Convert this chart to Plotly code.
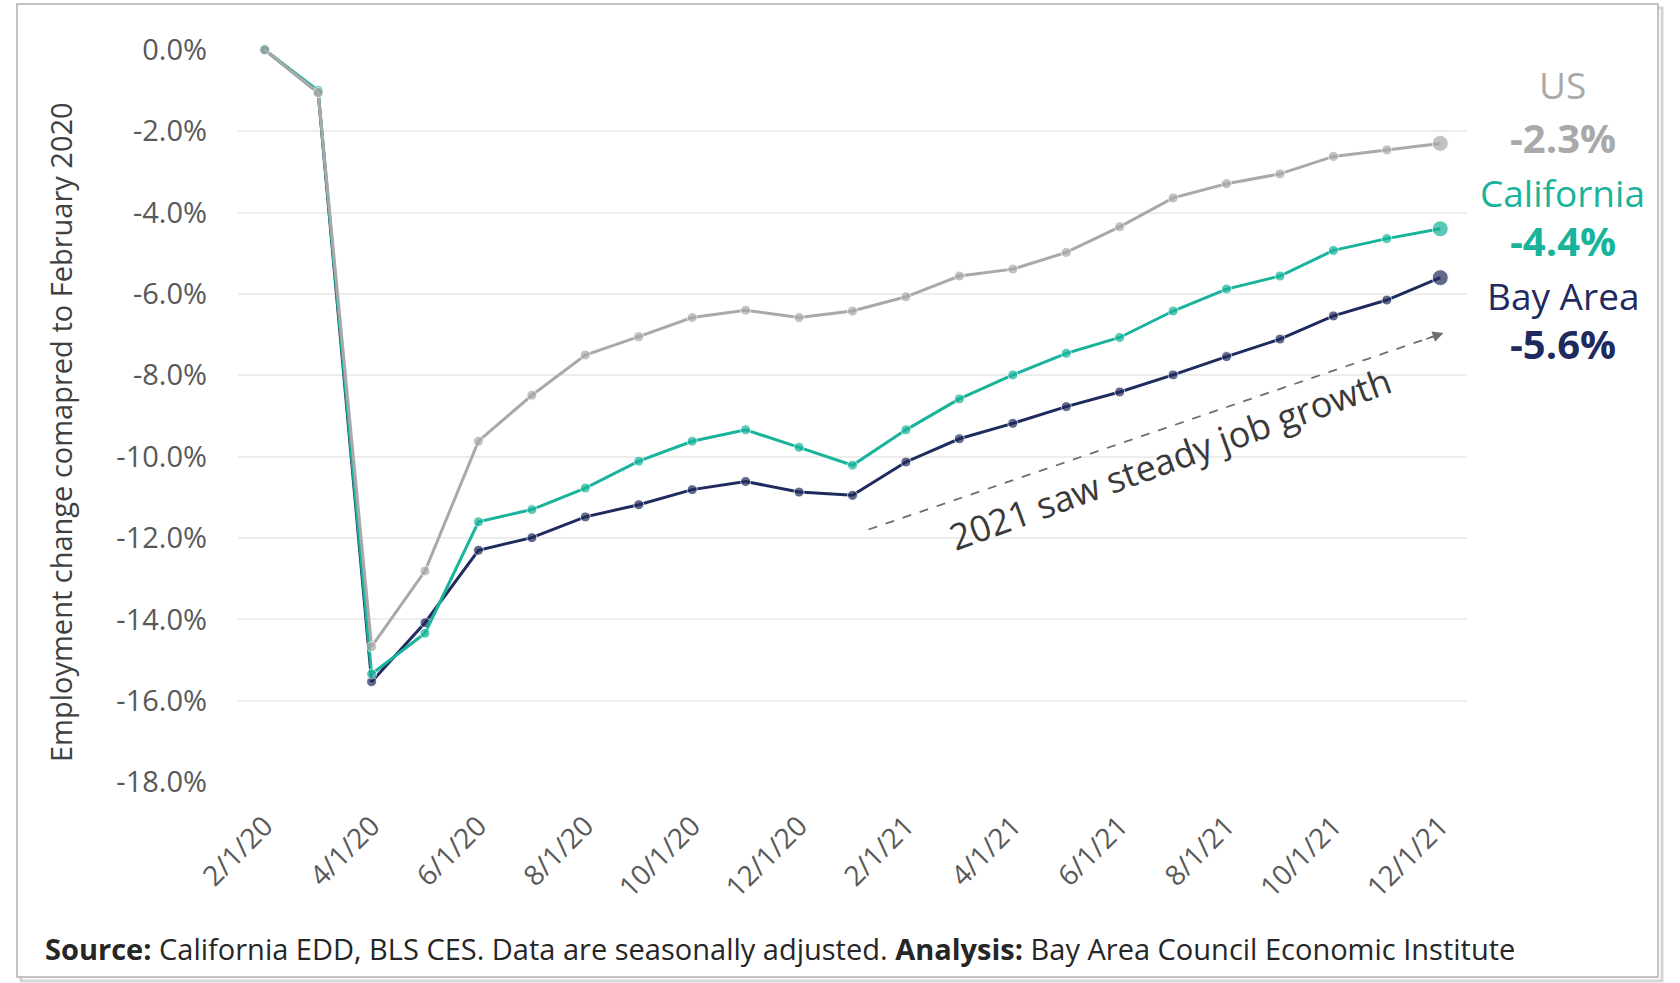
import plotly.graph_objects as go

# Monthly employment change vs. February 2020 (percent)
months = ["2/1/20", "3/1/20", "4/1/20", "5/1/20", "6/1/20", "7/1/20", "8/1/20",
          "9/1/20", "10/1/20", "11/1/20", "12/1/20", "1/1/21", "2/1/21", "3/1/21",
          "4/1/21", "5/1/21", "6/1/21", "7/1/21", "8/1/21", "9/1/21", "10/1/21",
          "11/1/21", "12/1/21"]

us = [0.0, -1.05, -14.67, -12.81, -9.62, -8.49, -7.50, -7.05, -6.58, -6.40, -6.58,
      -6.42, -6.07, -5.56, -5.39, -4.98, -4.35, -3.64, -3.29, -3.05, -2.62, -2.46, -2.3]
california = [0.0, -1.0, -15.34, -14.34, -11.60, -11.30, -10.77, -10.11, -9.62, -9.34,
              -9.77, -10.21, -9.34, -8.58, -7.99, -7.46, -7.07, -6.42, -5.88, -5.56,
              -4.93, -4.64, -4.4]
bay_area = [0.0, -1.05, -15.53, -14.08, -12.30, -11.99, -11.48, -11.18, -10.81, -10.61,
            -10.87, -10.95, -10.13, -9.56, -9.18, -8.77, -8.41, -7.99, -7.54, -7.11,
            -6.54, -6.15, -5.6]

y_ticks = [0, -2, -4, -6, -8, -10, -12, -14, -16, -18]
y_ticktext = ["0.0%", "-2.0%", "-4.0%", "-6.0%", "-8.0%", "-10.0%", "-12.0%",
              "-14.0%", "-16.0%", "-18.0%"]

GREY = "#A9A9A9"
TEAL = "#17B39A"
NAVY = "#1F2B5E"
FONT = "Open Sans"

W, H = 1680, 983
L, R, T, B = 238, 213, 49, 200
plot_w = W - L - R
plot_h = H - T - B


def px_x(x):
    return (x - L) / plot_w


def px_y(y):
    return (H - B - y) / plot_h


idx = list(range(len(months)))
n = len(months)
fig = go.Figure()

series = [("Bay Area", bay_area, NAVY), ("California", california, TEAL), ("US", us, GREY)]
for name, vals, color in series:
    sizes = [10] * (n - 1) + [16]
    fig.add_trace(go.Scatter(
        x=idx, y=vals, mode="lines+markers", name=name,
        line=dict(color=color, width=3),
        marker=dict(color=color, size=sizes),
        cliponaxis=False, showlegend=False,
    ))

# dashed trend arrow
arrow_x = [11.3, 22.06]
arrow_y = [-11.79, -6.96]
fig.add_trace(go.Scatter(
    x=arrow_x, y=arrow_y, mode="lines",
    line=dict(color="#6E6E6E", width=1.8, dash="dash"),
    showlegend=False, hoverinfo="skip",
))
fig.add_annotation(
    x=arrow_x[1], y=arrow_y[1], ax=arrow_x[1] - 0.35, ay=arrow_y[1] - 0.16,
    xref="x", yref="y", axref="x", ayref="y", text="", showarrow=True,
    arrowhead=2, arrowsize=1.2, arrowwidth=1.8, arrowcolor="#6E6E6E",
)
fig.add_annotation(
    x=16.95, y=-10.05, xref="x", yref="y", text="2021 saw steady job growth",
    textangle=-20, showarrow=False, xanchor="center", yanchor="middle",
    font=dict(family=FONT, size=36, color="#3A3A3A"),
)

# end-of-line labels (pixel centres converted to paper coordinates)
label_cx = 1563
end_labels = [
    ("US", us[-1], GREY, 85, 137),
    ("California", california[-1], TEAL, 192, 240),
    ("Bay Area", bay_area[-1], NAVY, 295, 343),
]
for name, last, color, y_name, y_val in end_labels:
    fig.add_annotation(x=px_x(label_cx), y=px_y(y_name), xref="paper", yref="paper",
                       xanchor="center", yanchor="middle",
                       text=name, showarrow=False,
                       font=dict(family=FONT, size=37, color=color))
    fig.add_annotation(x=px_x(label_cx), y=px_y(y_val), xref="paper", yref="paper",
                       xanchor="center", yanchor="middle",
                       text=f"<b>{last:.1f}%</b>", showarrow=False,
                       font=dict(family=FONT, size=40, color=color))

# axis title
fig.add_annotation(
    x=px_x(60), y=px_y(432), xref="paper", yref="paper",
    xanchor="center", yanchor="middle",
    text="Employment change comapred to February 2020", textangle=-90,
    showarrow=False, font=dict(family=FONT, size=29, color="#404040"),
)

# source line
fig.add_annotation(
    x=px_x(43), y=px_y(948), xref="paper", yref="paper", xanchor="left",
    yanchor="middle",
    text="<b>Source:</b> California EDD, BLS CES. Data are seasonally adjusted. "
         "<b>Analysis:</b> Bay Area Council Economic Institute",
    showarrow=False, font=dict(family=FONT, size=29, color="#262626"),
)

# outer frame with soft shadow
fig.add_shape(type="rect", xref="paper", yref="paper",
              x0=px_x(21), x1=px_x(1662), y0=px_y(981), y1=px_y(8),
              line=dict(color="#D6D6D6", width=3), layer="below")
fig.add_shape(type="rect", xref="paper", yref="paper",
              x0=px_x(17), x1=px_x(1658), y0=px_y(977), y1=px_y(4),
              line=dict(color="#B0B0B0", width=1.5), fillcolor="white", layer="below")

fig.update_layout(
    width=W, height=H,
    margin=dict(l=L, r=R, t=T, b=B),
    paper_bgcolor="white", plot_bgcolor="rgba(0,0,0,0)",
    font=dict(family=FONT),
    xaxis=dict(
        range=[-0.5, n - 0.5], tickvals=idx[::2], ticktext=months[::2],
        tickangle=-45, showgrid=False, zeroline=False, showline=False, ticks="",
        tickfont=dict(family=FONT, size=28, color="#595959"),
        ticklabelstandoff=20,
    ),
    yaxis=dict(
        range=[-18.02, 0.02], tickvals=y_ticks, ticktext=y_ticktext,
        showgrid=True, gridcolor="#EDEDED", gridwidth=2, zeroline=False,
        showline=False, ticks="",
        tickfont=dict(family=FONT, size=29, color="#595959"),
        ticklabelstandoff=30,
    ),
)

fig.write_html("out.html")
